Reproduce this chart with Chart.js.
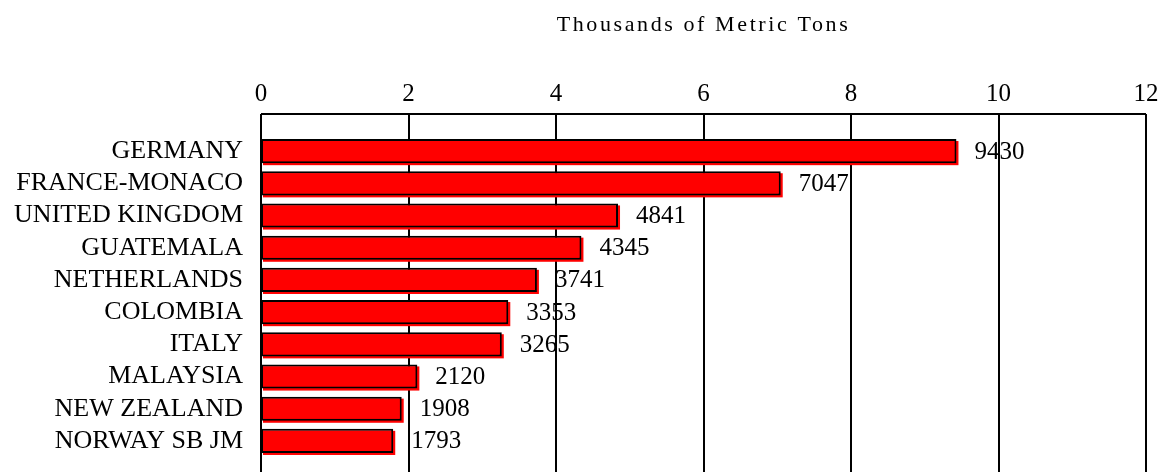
<!DOCTYPE html>
<html>
<head>
<meta charset="utf-8">
<script src="https://cdn.jsdelivr.net/npm/chart.js@4.4.1/dist/chart.umd.min.js"></script>
<style>
  html, body { margin: 0; padding: 0; background: #fff; overflow: hidden; }
  #wrap { width: 1164px; height: 472px; position: relative; }
</style>
</head>
<body>
<div id="wrap"><canvas id="importsChart"></canvas></div>
<script>
const countries = [
  "GERMANY", "FRANCE-MONACO", "UNITED KINGDOM", "GUATEMALA", "NETHERLANDS",
  "COLOMBIA", "ITALY", "MALAYSIA", "NEW ZEALAND", "NORWAY SB JM"
];
// metric tons
const tons = [9430, 7047, 4841, 4345, 3741, 3353, 3265, 2120, 1908, 1793];
const xTicks = [0, 2000, 4000, 6000, 8000, 10000, 12000];

const serif = "'Liberation Serif', 'Times New Roman', serif";

// frame + vertical grid, reaching above and below the bar band
const framePlugin = {
  id: "frame",
  beforeDatasetsDraw(chart) {
    const ctx = chart.ctx;
    const { left, right, top } = chart.chartArea;
    const xs = chart.scales.x;
    const frameTop = top - 21;
    ctx.save();
    ctx.strokeStyle = "#000";
    ctx.lineWidth = 2;
    ctx.beginPath();
    xs.ticks.forEach(t => {
      const px = Math.round(xs.getPixelForValue(t.value));
      ctx.moveTo(px, frameTop);
      ctx.lineTo(px, chart.height + 2);
    });
    ctx.moveTo(left, frameTop);
    ctx.lineTo(right, frameTop);
    ctx.stroke();
    ctx.restore();

    // red drop shadow behind each bar
    const meta = chart.getDatasetMeta(0);
    ctx.save();
    ctx.fillStyle = "#ff0000";
    meta.data.forEach(bar => {
      const p = bar.getProps(["x", "y", "base", "height"], true);
      ctx.fillRect(p.base + 2, p.y - p.height / 2 + 2, p.x - p.base, p.height);
    });
    ctx.restore();
  },
  afterDatasetsDraw(chart) {
    const ctx = chart.ctx;
    const meta = chart.getDatasetMeta(0);
    ctx.save();
    ctx.font = "25px " + serif;
    ctx.fillStyle = "#000";
    ctx.textBaseline = "middle";
    ctx.textAlign = "left";
    meta.data.forEach((bar, i) => {
      ctx.fillText(String(tons[i]), bar.x + 18, bar.y + 1);
    });
    ctx.restore();
  }
};

// title is drawn letter-spaced like the original
const spacedTitle = {
  id: "spacedTitle",
  beforeDraw(chart) {
    const tb = chart.titleBlock;
    if (!tb || tb._spaced) return;
    const draw = tb.draw.bind(tb);
    tb.draw = function () {
      chart.ctx.save();
      chart.ctx.letterSpacing = "2.6px";
      draw();
      chart.ctx.restore();
    };
    tb._spaced = true;
  }
};

const data = {
  labels: countries,
  datasets: [
    {
      data: tons,
      backgroundColor: "#ff0000",
      borderColor: "#000",
      borderWidth: 2,
      borderSkipped: false,
      barPercentage: 0.75,
      categoryPercentage: 1.0
    }
  ]
};

const config = {
  type: "bar",
  data: data,
  options: {
    indexAxis: "y",
    responsive: true,
    maintainAspectRatio: false,
    animation: false,
    layout: { padding: { left: 0, right: 18, top: 0, bottom: 15 } },
    plugins: {
      legend: { display: false },
      tooltip: { enabled: false },
      title: {
        display: true,
        text: "Thousands of Metric Tons",
        fullSize: false,
        color: "#000",
        font: { family: serif, size: 22, weight: "normal", lineHeight: 1.2 },
        padding: { top: 12, bottom: 0 }
      }
    },
    scales: {
      x: {
        position: "top",
        min: 0,
        max: 12000,
        afterBuildTicks(scale) {
          scale.ticks = xTicks.map(v => ({ value: v }));
        },
        afterFit(scale) {
          scale.height = 96.6;
          scale.paddingLeft = 0;
          scale.paddingRight = 0;
        },
        grid: { display: false, drawTicks: false },
        border: { display: false },
        ticks: {
          color: "#000",
          padding: 26,
          maxRotation: 0,
          font: { family: serif, size: 25 },
          callback: v => v / 1000
        }
      },
      y: {
        afterFit(scale) {
          scale.width = 261;
          scale.paddingTop = 0;
          scale.paddingBottom = 0;
        },
        grid: { display: false, drawTicks: false },
        border: { display: false },
        ticks: {
          color: "#000",
          padding: 18,
          autoSkip: false,
          font: { family: serif, size: 26 }
        }
      }
    }
  },
  plugins: [framePlugin, spacedTitle]
};

const importsChart = new Chart(document.getElementById("importsChart").getContext("2d"), config);
</script>
</body>
</html>
